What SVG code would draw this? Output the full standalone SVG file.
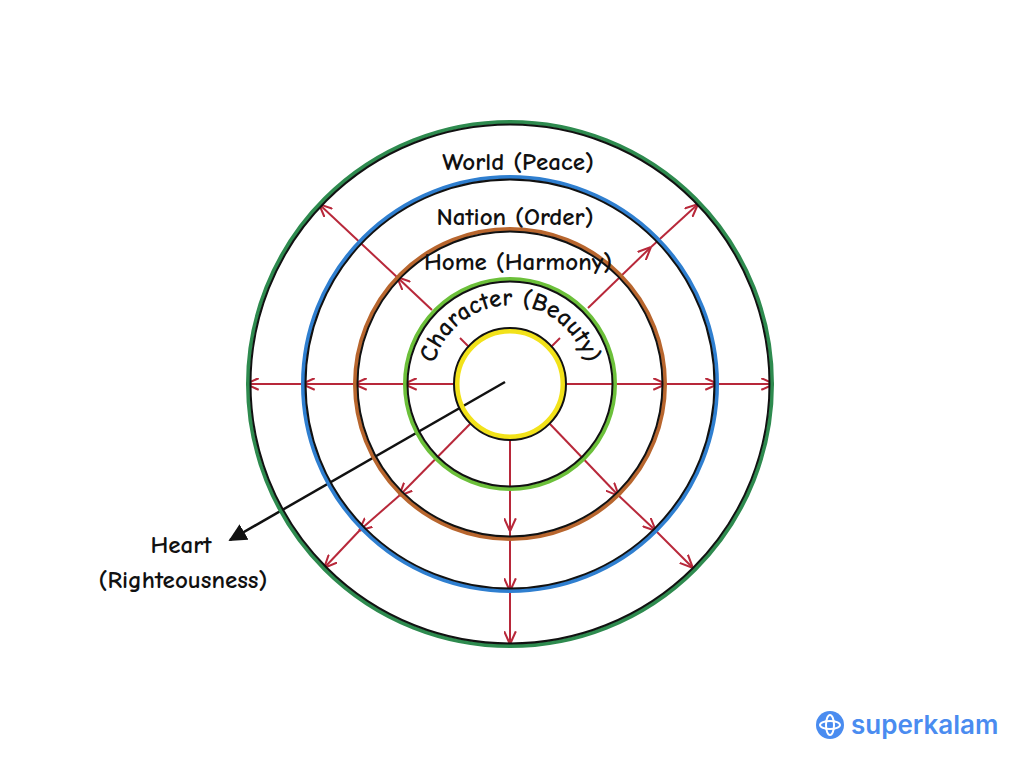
<svg xmlns="http://www.w3.org/2000/svg" width="1024" height="768" viewBox="0 0 1024 768">
<defs>
<style>
.t{font-family:"Comic Neue","Noto Sans","DejaVu Sans",sans-serif;font-size:25px;font-weight:bold;fill:#111}
.r{stroke:#b8283a;stroke-width:2;fill:none}
.blk{stroke:#111;fill:none;stroke-width:2}
</style>
<marker id="ah" viewBox="0 0 10 10" refX="9" refY="5" markerWidth="13" markerHeight="13" orient="auto" markerUnits="userSpaceOnUse"><path d="M0,0.5 L10,5 L0,9.5" fill="none" stroke="#b8283a" stroke-width="1.6"/></marker>
<marker id="bh" viewBox="0 0 10 10" refX="9" refY="5" markerWidth="18" markerHeight="18" orient="auto" markerUnits="userSpaceOnUse"><path d="M0,0 L10,5 L0,10 z" fill="#111"/></marker>
<path id="arc" d="M434,366 A78,78 0 0 1 586,366"/>
</defs>
<rect width="1024" height="768" fill="#fff"/>
<g id="connectors">
<line class="r" x1="455" y1="384" x2="405" y2="384" marker-end="url(#ah)"/>
<line class="r" x1="405" y1="384" x2="355" y2="384" marker-end="url(#ah)"/>
<line class="r" x1="355" y1="384" x2="303" y2="384" marker-end="url(#ah)"/>
<line class="r" x1="303" y1="384" x2="247" y2="384" marker-end="url(#ah)"/>
<line class="r" x1="565" y1="384" x2="665" y2="384" marker-end="url(#ah)"/>
<line class="r" x1="665" y1="384" x2="717" y2="384" marker-end="url(#ah)"/>
<line class="r" x1="717" y1="384" x2="773" y2="384" marker-end="url(#ah)"/>
<line class="r" x1="510" y1="440" x2="510" y2="530" marker-end="url(#ah)"/>
<line class="r" x1="510" y1="530" x2="510" y2="590" marker-end="url(#ah)"/>
<line class="r" x1="510" y1="590" x2="510" y2="643" marker-end="url(#ah)"/>
<line class="r" x1="432" y1="310" x2="398" y2="278" marker-end="url(#ah)"/>
<line class="r" x1="398" y1="278" x2="320" y2="205" marker-end="url(#ah)"/>
<line class="r" x1="588" y1="308" x2="650" y2="248" marker-end="url(#ah)"/>
<line class="r" x1="650" y1="248" x2="697" y2="205" marker-end="url(#ah)"/>
<line class="r" x1="471" y1="423" x2="400" y2="495" marker-end="url(#ah)"/>
<line class="r" x1="400" y1="495" x2="360" y2="530" marker-end="url(#ah)"/>
<line class="r" x1="360" y1="530" x2="325" y2="567" marker-end="url(#ah)"/>
<line class="r" x1="549" y1="423" x2="618" y2="495" marker-end="url(#ah)"/>
<line class="r" x1="618" y1="495" x2="655" y2="530" marker-end="url(#ah)"/>
<line class="r" x1="655" y1="530" x2="692" y2="567" marker-end="url(#ah)"/>
<line class="r" x1="460" y1="338" x2="470" y2="348"/>
<line class="r" x1="560" y1="338" x2="550" y2="348"/>
<line x1="505" y1="382" x2="230" y2="540" stroke="#111" stroke-width="2.5" marker-end="url(#bh)"/>
</g>
<g id="world"><circle cx="510" cy="384" r="262" fill="none" stroke="#2e8b4f" stroke-width="4"/><circle cx="510" cy="384" r="259.5" class="blk" stroke-width="1.5"/><text class="t" x="518" y="170" text-anchor="middle">World (Peace)</text></g>
<g id="nation"><circle cx="510" cy="384" r="207" fill="none" stroke="#2f7fd0" stroke-width="4"/><circle cx="510" cy="384" r="204.5" class="blk" stroke-width="1.5"/><text class="t" x="515" y="225" text-anchor="middle">Nation (Order)</text></g>
<g id="home"><circle cx="510" cy="384" r="155" fill="none" stroke="#b8662e" stroke-width="4"/><circle cx="510" cy="384" r="152.5" class="blk" stroke-width="1.5"/><text class="t" font-size="23" x="518" y="270" text-anchor="middle">Home (Harmony)</text></g>
<g id="character"><circle cx="510" cy="384" r="105" fill="none" stroke="#6cc03a" stroke-width="4"/><circle cx="510" cy="384" r="102.5" class="blk" stroke-width="1.5"/><text class="t" font-size="20"><textPath href="#arc" startOffset="50%" text-anchor="middle">Character (Beauty)</textPath></text></g>
<g id="heart"><circle cx="510" cy="384" r="53" fill="none" stroke="#f2e21a" stroke-width="5"/><circle cx="510" cy="384" r="56" class="blk"/>
<text class="t" x="181" y="553" text-anchor="middle">Heart</text><text class="t" x="183" y="588" text-anchor="middle">(Righteousness)</text></g>
<g id="logo"><circle cx="830" cy="725" r="14" fill="#4a8cf0"/><ellipse cx="830" cy="725" rx="10" ry="4" fill="none" stroke="#fff" stroke-width="2"/><ellipse cx="830" cy="725" rx="4" ry="10" fill="none" stroke="#fff" stroke-width="2"/>
<text x="851" y="734" font-family="Inter,Roboto,sans-serif" font-size="26" font-weight="600" fill="#4a8cf0">superkalam</text></g>
</svg>
